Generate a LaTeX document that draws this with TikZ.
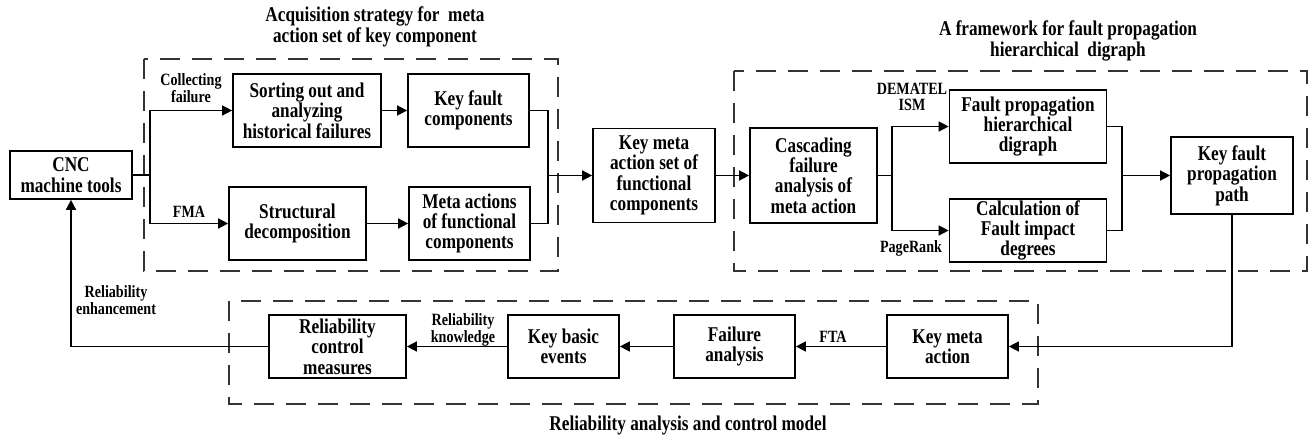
\documentclass[tikz,border=0pt]{standalone}
\usepackage{fontspec}
\setmainfont{Liberation Serif}[FakeStretch=0.82]
\usetikzlibrary{arrows.meta}

\begin{document}
\begin{tikzpicture}[x=0.5pt,y=-0.5pt,
  box/.style={draw, line width=0.85pt, inner sep=0pt, align=center,
    font=\fontsize{10.5}{10.2}\selectfont\bfseries},
  lbl/.style={inner sep=0pt, align=center,
    font=\fontsize{8.6}{8.2}\selectfont\bfseries},
  ttl/.style={inner sep=0pt, align=center,
    font=\fontsize{10.5}{10.2}\selectfont\bfseries},
  conn/.style={line width=0.75pt},
  arr/.style={conn, -{Triangle[length=5pt,width=5pt]}},
  dashbox/.style={draw=black!80, line width=0.9pt, dash pattern=on 10pt off 6pt}
]
\useasboundingbox (0,0) rectangle (1312,438);

% group frames
\draw[dashbox] (144,59) rectangle (558,271);
\draw[dashbox] (734,71) rectangle (1307,271);
\draw[dashbox] (229,301) rectangle (1038,404);

% group titles
\node[ttl] (t1) at (375,27) {Acquisition strategy for\ \ meta\\action set of key component};
\node[ttl] (t2) at (1068,41) {A framework for fault propagation\\hierarchical\ \ digraph};
\node[ttl] (t3) at (688,425) {Reliability analysis and control model};

% process boxes
\node[box, minimum width=61pt, minimum height=24pt] (cnc) at (71,175) {CNC\\machine tools};
\node[box, minimum width=74pt, minimum height=36.5pt] (sort) at (307,110.5) {Sorting out and\\analyzing\\historical failures};
\node[box, minimum width=60.5pt, minimum height=36.5pt] (kfc) at (468.5,110.5) {Key fault\\components};
\node[box, minimum width=68.5pt, minimum height=36.5pt] (sd) at (297.5,223.5) {Structural\\decomposition};
\node[box, minimum width=60.5pt, minimum height=36.5pt] (mafc) at (469.5,223.5) {Meta actions\\of functional\\components};
\node[box, minimum width=61pt, minimum height=47pt] (kmaset) at (654,175.5) {Key meta\\action set of\\functional\\components};
\node[box, minimum width=63.5pt, minimum height=47.5pt] (casc) at (813.5,175.5) {Cascading\\failure\\analysis of\\meta action};
\node[box, minimum width=78.5pt, minimum height=36.5pt] (fphd) at (1028,126.5) {Fault propagation\\hierarchical\\digraph};
\node[box, minimum width=78.5pt, minimum height=31.5pt] (calc) at (1028,230.5) {Calculation of\\Fault impact\\degrees};
\node[box, minimum width=61pt, minimum height=38.5pt] (kfpp) at (1232,175.5) {Key fault\\propagation\\path};
\node[box, minimum width=68.5pt, minimum height=31.5pt] (rcm) at (337.5,346.5) {Reliability\\control\\measures};
\node[box, minimum width=55.5pt, minimum height=31.5pt] (kbe) at (563.5,346.5) {Key basic\\events};
\node[box, minimum width=60.5pt, minimum height=31.5pt] (fa) at (734.5,346.5) {Failure\\analysis};
\node[box, minimum width=60.5pt, minimum height=31.5pt] (kma) at (947.5,346.5) {Key meta\\action};

% edge labels
\node[lbl] (lcol) at (191,88) {Collecting\\failure};
\node[lbl] (lfma) at (189,212) {FMA};
\node[lbl] (ldem) at (912,97) {DEMATEL\\ISM};
\node[lbl] (lpr) at (911,248) {PageRank};
\node[lbl] (lenh) at (116,300) {Reliability\\enhancement};
\node[lbl] (lknw) at (463,330) {Reliability\\knowledge};
\node[lbl] (lfta) at (833,337) {FTA};

% branch and merge points
\coordinate (br1) at (150,175);
\coordinate (m1) at (548,175.5);
\coordinate (br2) at (892,175.5);
\coordinate (m2) at (1122,175.5);

% connectors
\draw[conn] (cnc.east) -- (br1);
\draw[arr] (br1) |- (sort.west);
\draw[arr] (br1) |- (sd.west);
\draw[arr] (sort.east) -- (kfc.west);
\draw[arr] (sd.east) -- (mafc.west);
\draw[conn] (kfc.east) -| (m1);
\draw[conn] (mafc.east) -| (m1);
\draw[arr] (m1) -- (kmaset.west);
\draw[arr] (kmaset.east) -- (casc.west);
\draw[conn] (casc.east) -- (br2);
\draw[arr] (br2) |- (fphd.west);
\draw[arr] (br2) |- (calc.west);
\draw[conn] (fphd.east) -| (m2);
\draw[conn] (calc.east) -| (m2);
\draw[arr] (m2) -- (kfpp.west);
\draw[arr] (kfpp.south) |- (kma.east);
\draw[arr] (kma.west) -- (fa.east);
\draw[arr] (fa.west) -- (kbe.east);
\draw[arr] (kbe.west) -- (rcm.east);
\draw[arr] (rcm.west) -| (cnc.south);
\end{tikzpicture}
\end{document}
